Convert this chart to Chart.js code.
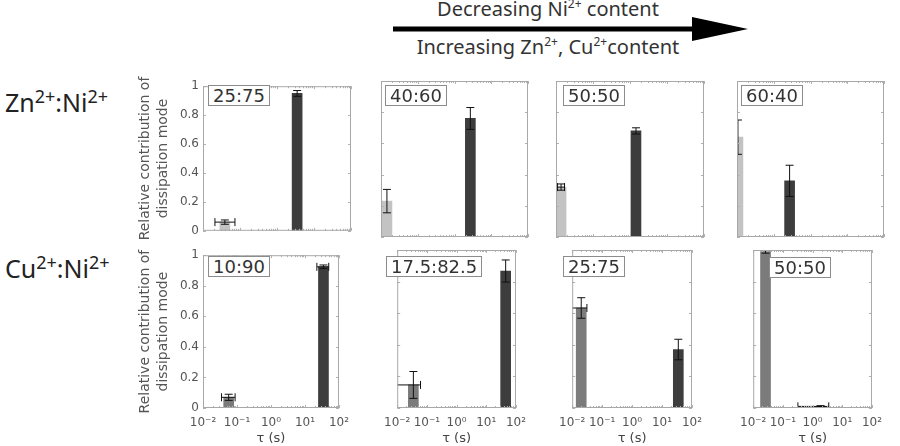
<!DOCTYPE html>
<html><head><meta charset="utf-8">
<script src="https://cdn.jsdelivr.net/npm/chart.js@4.4.1/dist/chart.umd.min.js"></script>
<style>
html,body{margin:0;padding:0;background:#fff;}
#wrap{position:relative;width:900px;height:446px;overflow:hidden;background:#fff;}
canvas{position:absolute;}
.rat{position:absolute;border:1px solid #8c8c8c;background:#fff;color:#333;font-family:'DejaVu Sans',sans-serif;font-size:18px;line-height:19px;padding:0 4px;white-space:nowrap;z-index:2;}
.rowlab{position:absolute;left:5px;font-family:'Noto Sans',sans-serif;font-size:25px;line-height:30px;color:#222;white-space:nowrap;}
.rowlab sup{font-size:18px;vertical-align:9px;line-height:0;}
.atxt{position:absolute;font-family:'Noto Sans',sans-serif;font-size:20px;line-height:22px;color:#333;white-space:nowrap;transform:translateX(-50%);}
.atxt sup{font-size:12px;vertical-align:8px;line-height:0;}
</style></head><body><div id="wrap">
<svg style="position:absolute;left:0;top:0" width="900" height="60">
  <line x1="393" y1="29" x2="700" y2="29" stroke="#000" stroke-width="5"/>
  <polygon points="692,17 748,29 692,41" fill="#000"/>
</svg>
<div class="atxt" style="left:548px;top:-2px">Decreasing Ni<sup>2+</sup> content</div>
<div class="atxt" style="left:548px;top:36px">Increasing Zn<sup>2+</sup>, Cu<sup>2+</sup>content</div>
<div class="rowlab" style="top:87px">Zn<sup>2+</sup>:Ni<sup>2+</sup></div>
<div class="rowlab" style="top:253px">Cu<sup>2+</sup>:Ni<sup>2+</sup></div>
</div>
<script>
// ---------- data ----------
const ratioLabels = [['25:75', '40:60', '50:50', '60:40'], ['10:90', '17.5:82.5', '25:75', '50:50']];
const xTickVals = [0.01, 0.1, 1, 10, 100];
const xTickLabels = ['10⁻²', '10⁻¹', '10⁰', '10¹', '10²'];
const yTickVals = [0, 0.2, 0.4, 0.6, 0.8, 1];
const yTickLabels = ['0', '0.2', '0.4', '0.6', '0.8', '1'];

// Zn2+:Ni2+ row — fast mode (light bar) and slow mode (dark bar)
const znFastTau = [0.039, 0.0145, 0.0137, 0.0106];
const znFastVal = [0.06, 0.23, 0.32, 0.64];
const znFastErr = [0.015, 0.075, 0.02, 0.11];
const znFastTauLo = [0.021, null, 0.011, null];
const znFastTauHi = [0.073, null, 0.017, null];
const znSlowTau = [3.5, 2.7, 1.45, 0.27];
const znSlowVal = [0.95, 0.76, 0.68, 0.36];
const znSlowErr = [0.02, 0.07, 0.02, 0.1];
const znSlowTauLo = [null, null, null, null];
const znSlowTauHi = [null, null, null, null];

// Cu2+:Ni2+ row
const cuFastTau = [0.057, 0.035, 0.02, 0.026];
const cuFastVal = [0.07, 0.146, 0.633, 0.99];
const cuFastErr = [0.02, 0.085, 0.065, 0.01];
const cuFastTauLo = [0.035, 0.006, 0.009, null];
const cuFastTauHi = [0.088, 0.061, 0.031, null];
const cuSlowTau = [35, 45, 35, 1.86];
const cuSlowVal = [0.924, 0.867, 0.37, 0.01];
const cuSlowErr = [0.012, 0.07, 0.065, 0.005];
const cuSlowTauLo = [22.4, null, null, 0.32];
const cuSlowTauHi = [50, null, null, 3.5];

// ---------- layout ----------
const colLefts = [203, 380, 555, 736];
const colWidths = [148, 148, 149, 148];
const rowTops = [81, 250];
const rowHeights = [157, 158];
const boxOffsets = [[[5, 4], [5, 4], [8, 4], [5, 4]], [[5, 6], [6, 6], [8, 6], [33, 7]]];
const fastColors = ['#c3c3c3', '#7b7b7b'];
const slowColor = '#3d3d3d';
const errColor = '#111';

const rows = [
  {fT: znFastTau, fV: znFastVal, fE: znFastErr, fLo: znFastTauLo, fHi: znFastTauHi,
   sT: znSlowTau, sV: znSlowVal, sE: znSlowErr, sLo: znSlowTauLo, sHi: znSlowTauHi},
  {fT: cuFastTau, fV: cuFastVal, fE: cuFastErr, fLo: cuFastTauLo, fHi: cuFastTauHi,
   sT: cuSlowTau, sV: cuSlowVal, sE: cuSlowErr, sLo: cuSlowTauLo, sHi: cuSlowTauHi}
];

function vErr(x, y, e) {
  return {type: 'line', data: [{x: x, y: y - e}, {x: x, y: y + e}], borderColor: errColor, borderWidth: 1,
    pointStyle: 'line', pointRadius: 4, pointHoverRadius: 4, pointBorderColor: errColor, pointBorderWidth: 1, order: 1};
}
function hErr(lo, hi, y) {
  return {type: 'line', data: [{x: lo, y: y}, {x: hi, y: y}], borderColor: errColor, borderWidth: 1,
    pointStyle: 'line', pointRotation: 90, pointRadius: 4, pointHoverRadius: 4, pointBorderColor: errColor, pointBorderWidth: 1, order: 1};
}

const framePlugin = {
  id: 'frame',
  afterDatasetsDraw(chart) {
    const {ctx, chartArea: a, scales: {x, y}} = chart;
    ctx.save();
    ctx.strokeStyle = '#b2b2b2';
    ctx.lineWidth = 1;
    ctx.beginPath();
    xTickVals.forEach(v => {
      const px = Math.round(x.getPixelForValue(v)) + 0.5;
      ctx.moveTo(px, a.bottom); ctx.lineTo(px, a.bottom - 3);
      ctx.moveTo(px, a.top); ctx.lineTo(px, a.top + 3);
    });
    for (let d = 0.01; d < 100; d *= 10) {
      for (let m = 2; m <= 9; m++) {
        const px = Math.round(x.getPixelForValue(d * m)) + 0.5;
        ctx.moveTo(px, a.bottom); ctx.lineTo(px, a.bottom - 2);
        ctx.moveTo(px, a.top); ctx.lineTo(px, a.top + 2);
      }
    }
    yTickVals.forEach(v => {
      const py = Math.round(y.getPixelForValue(v)) + 0.5;
      ctx.moveTo(a.left, py); ctx.lineTo(a.left + 3, py);
      ctx.moveTo(a.right, py); ctx.lineTo(a.right - 3, py);
    });
    ctx.stroke();
    ctx.strokeStyle = '#a8a8a8';
    ctx.strokeRect(a.left + 0.5, a.top + 0.5, a.right - a.left - 1, a.bottom - a.top - 1);
    ctx.restore();
  }
};

const wrap = document.getElementById('wrap');
for (let r = 0; r < 2; r++) {
  const d = rows[r];
  for (let c = 0; c < 4; c++) {
    const L = colLefts[c], W = colWidths[c], T = rowTops[r], H = rowHeights[r];
    const padL = c === 0 ? 66 : 4, padR = 6, padT = 6, padB = r === 1 ? 40 : 4;
    const cv = document.createElement('canvas');
    cv.width = W + padL + padR; cv.height = H + padT + padB;
    cv.style.left = (L - padL) + 'px'; cv.style.top = (T - padT) + 'px';
    wrap.appendChild(cv);

    const box = document.createElement('div');
    box.className = 'rat';
    box.textContent = ratioLabels[r][c];
    box.style.left = (L + boxOffsets[r][c][0]) + 'px';
    box.style.top = (T + boxOffsets[r][c][1]) + 'px';
    wrap.appendChild(box);

    const datasets = [];
    datasets.push({type: 'bar', data: [{x: d.fT[c], y: d.fV[c]}, {x: d.sT[c], y: d.sV[c]}],
      backgroundColor: [fastColors[r], slowColor], borderWidth: 0, barThickness: 10, grouped: false, order: 3});
    datasets.push(vErr(d.fT[c], d.fV[c], d.fE[c]));
    datasets.push(vErr(d.sT[c], d.sV[c], d.sE[c]));
    if (d.fLo[c] !== null) datasets.push(hErr(d.fLo[c], d.fHi[c], d.fV[c]));
    if (d.sLo[c] !== null) datasets.push(hErr(d.sLo[c], d.sHi[c], d.sV[c]));

    new Chart(cv, {
      type: 'bar',
      data: {datasets},
      options: {
        responsive: false, animation: false, devicePixelRatio: 1,
        layout: {padding: {top: padT, right: padR, left: 0, bottom: 0}},
        plugins: {legend: {display: false}, tooltip: {enabled: false}},
        events: [],
        scales: {
          x: {
            type: 'logarithmic', min: 0.01, max: 100, offset: false,
            grid: {display: false, drawTicks: false, offset: false}, border: {display: false},
            afterBuildTicks: s => { s.ticks = xTickVals.map(v => ({value: v})); },
            ticks: {display: r === 1, autoSkip: false, maxRotation: 0, padding: 8, color: '#555',
              font: {family: 'DejaVu Sans', size: 12}, callback: (v, i) => xTickLabels[i]},
            title: {display: r === 1, text: 'τ (s)', color: '#444', font: {family: 'DejaVu Sans', size: 13},
              padding: {top: 0, bottom: 2}},
            afterFit: s => { s.height = padB; }
          },
          y: {
            min: 0, max: 1,
            grid: {display: false, drawTicks: false}, border: {display: false},
            afterBuildTicks: s => { s.ticks = yTickVals.map(v => ({value: v})); },
            ticks: {display: c === 0, padding: 4, color: '#555', font: {family: 'DejaVu Sans', size: 12},
              callback: (v, i) => yTickLabels[i]},
            title: {display: c === 0, text: ['Relative contribution of', 'dissipation mode'], color: '#555',
              font: {family: 'DejaVu Sans', size: 14, lineHeight: 1.25}, padding: {top: 0, bottom: 0}},
            afterFit: s => { s.width = padL; }
          }
        }
      },
      plugins: [framePlugin]
    });
  }
}
</script>
</body></html>
